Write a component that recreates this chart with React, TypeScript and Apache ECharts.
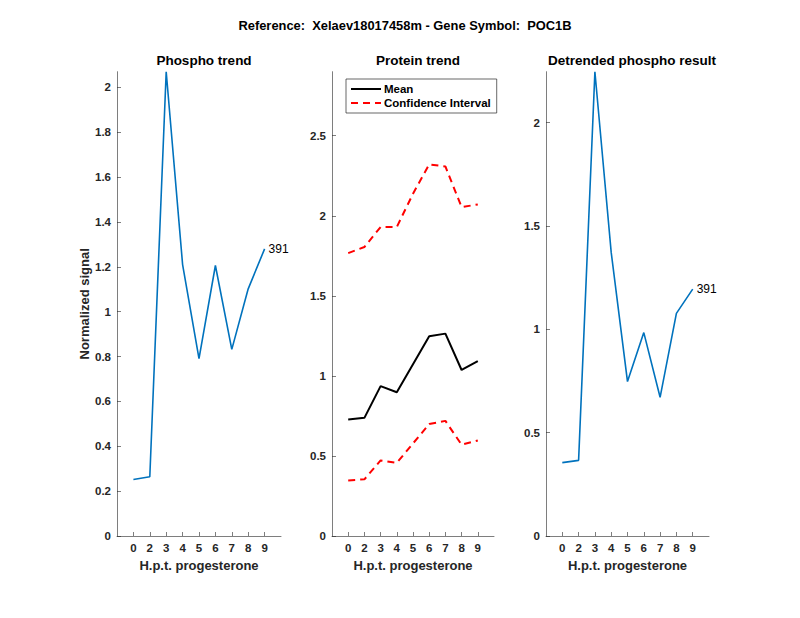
import React, { useEffect, useRef } from "react";
import * as echarts from "echarts";

const xLabels = ["0", "2", "3", "4", "5", "6", "7", "8", "9"];
const phospho = [0.252, 0.264, 2.07, 1.21, 0.791, 1.206, 0.832, 1.102, 1.28];
const proteinMean = [0.728, 0.738, 0.936, 0.898, 1.073, 1.248, 1.264, 1.037, 1.092];
const ciLower = [0.347, 0.354, 0.472, 0.457, 0.578, 0.699, 0.719, 0.57, 0.597];
const ciUpper = [1.767, 1.805, 1.93, 1.93, 2.138, 2.321, 2.308, 2.054, 2.071];
const detrended = [0.355, 0.366, 2.246, 1.372, 0.747, 0.984, 0.671, 1.077, 1.194];
const endLabelText = "391";

const yTicksLeft = [0, 0.2, 0.4, 0.6, 0.8, 1, 1.2, 1.4, 1.6, 1.8, 2];
const yTicksMid = [0, 0.5, 1, 1.5, 2, 2.5];
const yTicksRight = [0, 0.5, 1, 1.5, 2];
const midMax = 2.9;

const FONT = "Liberation Sans";
const TXT = "#262626";
const AX = "#262626";

const toPairs = (arr: number[]) => arr.map((v, i) => [i + 1, v]);
const xPositions = xLabels.map((_, i) => i + 1);

function makeX(gridIndex: number) {
  return {
    type: "value",
    gridIndex,
    min: 0,
    max: xLabels.length + 1,
    name: "H.p.t. progesterone",
    nameLocation: "middle",
    nameGap: 22,
    nameTextStyle: { fontFamily: FONT, fontSize: 13, fontWeight: "bold", color: TXT },
    axisLine: { show: true, onZero: false, lineStyle: { color: AX, width: 0.6 } },
    axisTick: { show: true, inside: true, length: 4, customValues: xPositions, lineStyle: { color: AX, width: 0.6 } },
    axisLabel: {
      customValues: xPositions,
      formatter: (v: number) => xLabels[Math.round(v) - 1] ?? "",
      fontFamily: FONT,
      fontSize: 11.5,
      fontWeight: "bold",
      color: TXT,
      margin: 6,
    },
    splitLine: { show: false },
  };
}

function makeY(gridIndex: number, max: number, ticks: number[], name?: string) {
  return {
    type: "value",
    gridIndex,
    min: 0,
    max,
    name: name ?? "",
    nameLocation: "middle",
    nameGap: 26,
    nameTextStyle: { fontFamily: FONT, fontSize: 13, fontWeight: "bold", color: TXT },
    axisLine: { show: true, lineStyle: { color: AX, width: 0.6 } },
    axisTick: { show: true, inside: true, length: 4, customValues: ticks, lineStyle: { color: AX, width: 0.6 } },
    axisLabel: {
      customValues: ticks,
      fontFamily: FONT,
      fontSize: 11.5,
      fontWeight: "bold",
      color: TXT,
      margin: 6,
    },
    splitLine: { show: false },
  };
}

export default function App() {
  const ref = useRef<HTMLDivElement>(null);
  useEffect(() => {
    document.body.style.margin = "0";
    const chart = echarts.init(ref.current!, null, { renderer: "svg" });
    const titleStyle = { fontFamily: FONT, fontSize: 13.5, fontWeight: "bold", color: "#000" };
    const blue = "#0072BD";
    chart.setOption({
      animation: false,
      backgroundColor: "#fff",
      title: [
        { text: "Reference:  Xelaev18017458m - Gene Symbol:  POC1B", left: 400, textAlign: "center", top: 14, textStyle: { ...titleStyle, fontSize: 12.9 } },
        { text: "Phospho trend", left: 199, top: 48, textAlign: "center", textStyle: titleStyle },
        { text: "Protein trend", left: 413, top: 48, textAlign: "center", textStyle: titleStyle },
        { text: "Detrended phospho result", left: 627, top: 48, textAlign: "center", textStyle: titleStyle },
      ],
      grid: [
        { left: 117, top: 71.7, width: 164, height: 464.3 },
        { left: 332, top: 71.7, width: 162, height: 464.3 },
        { left: 546, top: 71.7, width: 163, height: 464.3 },
      ],
      xAxis: [makeX(0), makeX(1), makeX(2)],
      yAxis: [
        makeY(0, Math.max(...phospho), yTicksLeft, "Normalized signal"),
        makeY(1, midMax, yTicksMid),
        makeY(2, Math.max(...detrended), yTicksRight),
      ],
      legend: {
        left: 346,
        top: 79,
        orient: "vertical",
        data: ["Mean", "Confidence Interval"],
        backgroundColor: "#fff",
        borderColor: AX,
        borderWidth: 0.7,
        borderRadius: 0,
        padding: [4, 6, 4, 4],
        itemGap: 2,
        itemWidth: 30,
        itemHeight: 12,
        itemStyle: { opacity: 0 },
        textStyle: { fontFamily: FONT, fontSize: 11.5, fontWeight: "bold", color: "#000", padding: [0, 0, 0, -2] },
      },
      series: [
        {
          type: "line",
          xAxisIndex: 0,
          yAxisIndex: 0,
          data: toPairs(phospho),
          symbol: "none",
          lineStyle: { color: blue, width: 1.6 },
          itemStyle: { color: blue },
          endLabel: { show: true, formatter: endLabelText, fontFamily: FONT, fontSize: 12, color: "#000", distance: 4 },
        },
        {
          name: "Mean",
          type: "line",
          xAxisIndex: 1,
          yAxisIndex: 1,
          data: toPairs(proteinMean),
          symbol: "none",
          lineStyle: { color: "#000", width: 2 },
          itemStyle: { color: "#000" },
        },
        {
          name: "Confidence Interval",
          type: "line",
          xAxisIndex: 1,
          yAxisIndex: 1,
          data: toPairs(ciUpper),
          symbol: "none",
          lineStyle: { color: "#FF0000", width: 2, type: [7, 5] },
          itemStyle: { color: "#FF0000" },
        },
        {
          name: "Confidence Interval",
          type: "line",
          xAxisIndex: 1,
          yAxisIndex: 1,
          data: toPairs(ciLower),
          symbol: "none",
          lineStyle: { color: "#FF0000", width: 2, type: [7, 5] },
          itemStyle: { color: "#FF0000" },
        },
        {
          type: "line",
          xAxisIndex: 2,
          yAxisIndex: 2,
          data: toPairs(detrended),
          symbol: "none",
          lineStyle: { color: blue, width: 1.6 },
          itemStyle: { color: blue },
          endLabel: { show: true, formatter: endLabelText, fontFamily: FONT, fontSize: 12, color: "#000", distance: 4 },
        },
      ],
    });
    return () => chart.dispose();
  }, []);
  return <div ref={ref} style={{ width: 800, height: 618 }} />;
}
